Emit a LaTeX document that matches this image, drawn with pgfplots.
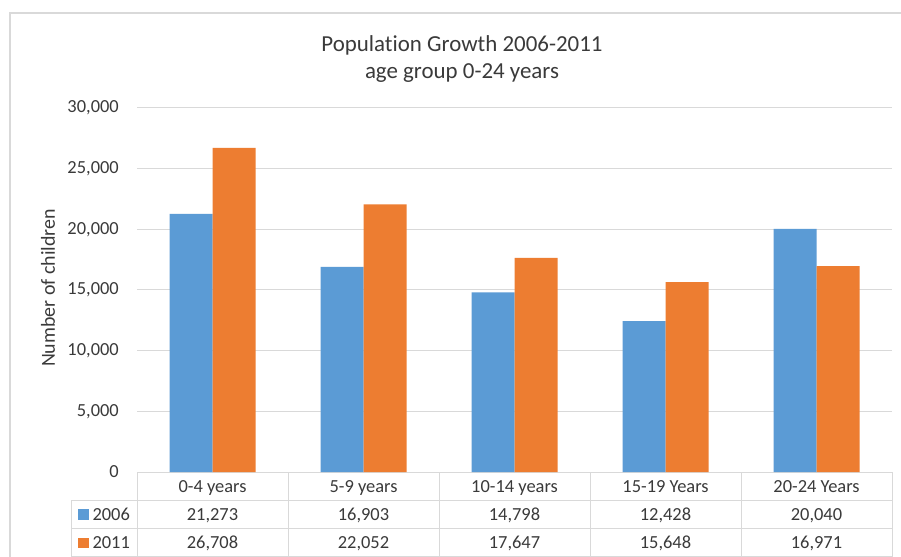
\documentclass[border=0pt]{standalone}
\usepackage{fontspec}
\setmainfont{Carlito}[Ligatures=NoCommon]
\usepackage{pgfplots}
\pgfplotsset{compat=1.18}
\usepackage{pgfplotstable}
\definecolor{cBlue}{HTML}{5B9BD5}
\definecolor{cOrange}{HTML}{ED7D31}
\definecolor{cGrid}{HTML}{D9D9D9}
\definecolor{cText}{HTML}{3A3A3A}

\pgfplotstableread{
idx y2006 y2011
0 21273 26708
1 16903 22052
2 14798 17647
3 12428 15648
4 20040 16971
}\popdata

\begin{document}
\begin{tikzpicture}
\useasboundingbox (0,0) rectangle (901bp,557bp);
\clip (0,0) rectangle (901bp,557bp);
\fill[white] (0,0) rectangle (901bp,557bp);
\draw[cGrid, line width=1.5bp] (10bp,-20bp) rectangle (930bp,544bp);
\node[text=cText, align=center, font=\fontsize{23}{28}\selectfont] at (462bp,498bp) {Populat\kern0pt ion Growth 2006-2011\\age group 0-24 years};
\begin{axis}[
  at={(137bp,85bp)}, anchor=south west, scale only axis,
  width=755bp, height=364bp,
  xmin=-0.5, xmax=4.5, ymin=0, ymax=30000,
  ybar=0pt, bar width=43bp,
  axis line style={draw=none}, major tick length=0pt,
  ymajorgrids, grid style={cGrid, line width=1bp},
  ytick={0,5000,...,30000},
  xtick={0,...,4},
  xticklabels={0-4 years,5-9 years,10-14 years,15-19 Years,20-24 Years},
  xticklabel style={anchor=base, yshift=-20bp, inner sep=0pt},
  yticklabel style={anchor=east, inner sep=0pt, xshift=-18bp},
  ticklabel style={font=\fontsize{18.5}{22}\selectfont, text=cText},
  /pgf/number format/.cd, 1000 sep={,}, assume math mode=true, /pgfplots/.cd,
  scaled y ticks=false,
  clip=false,
  legend style={draw=none, fill=none, at={(axis description cs:-0.0781,-0.0989)},
    anchor=north west, inner sep=0pt, outer sep=0pt, row sep=16.5bp, column sep=4bp,
    font=\fontsize{18.5}{22}\selectfont, text=cText,
    nodes={inner sep=0pt, text height=12bp, text depth=0bp, anchor=base west}},
  legend image code/.code={\fill[#1] (0bp,0.5bp) rectangle (10.5bp,11bp);},
]
\addplot[fill=cBlue, draw=none] table[x=idx, y=y2006] {\popdata};
\addlegendentry{2006}
\addplot[fill=cOrange, draw=none] table[x=idx, y=y2011] {\popdata};
\addlegendentry{2011}
% table grid
\draw[cGrid, line width=1bp] (axis cs:-0.9305,-2308) -- (axis cs:4.5,-2308);
\draw[cGrid, line width=1bp] (axis cs:-0.9305,-4657) -- (axis cs:4.5,-4657);
\draw[cGrid, line width=1bp] (axis cs:-0.9305,-7005) -- (axis cs:4.5,-7005);
\draw[cGrid, line width=1bp] (axis cs:-0.9305,-2308) -- (axis cs:-0.9305,-7600);
\draw[cGrid, line width=1bp] (axis cs:-0.5,0) -- (axis cs:-0.5,-7600);
\draw[cGrid, line width=1bp] (axis cs:0.5,0) -- (axis cs:0.5,-7600);
\draw[cGrid, line width=1bp] (axis cs:1.5,0) -- (axis cs:1.5,-7600);
\draw[cGrid, line width=1bp] (axis cs:2.5,0) -- (axis cs:2.5,-7600);
\draw[cGrid, line width=1bp] (axis cs:3.5,0) -- (axis cs:3.5,-7600);
\draw[cGrid, line width=1bp] (axis cs:4.5,0) -- (axis cs:4.5,-7600);
% table values
\begin{scope}[every node/.style={anchor=base, inner sep=0pt, text=cText, font=\fontsize{18.5}{22}\selectfont}]
\node at (axis cs:0,-3956) {21,273};
\node at (axis cs:1,-3956) {16,903};
\node at (axis cs:2,-3956) {14,798};
\node at (axis cs:3,-3956) {12,428};
\node at (axis cs:4,-3956) {20,040};
\node at (axis cs:0,-6305) {26,708};
\node at (axis cs:1,-6305) {22,052};
\node at (axis cs:2,-6305) {17,647};
\node at (axis cs:3,-6305) {15,648};
\node at (axis cs:4,-6305) {16,971};
\end{scope}
\end{axis}
\node[rotate=90, text=cText, font=\fontsize{20}{24}\selectfont] at (48bp,269bp) {Number of children};
\end{tikzpicture}
\end{document}
